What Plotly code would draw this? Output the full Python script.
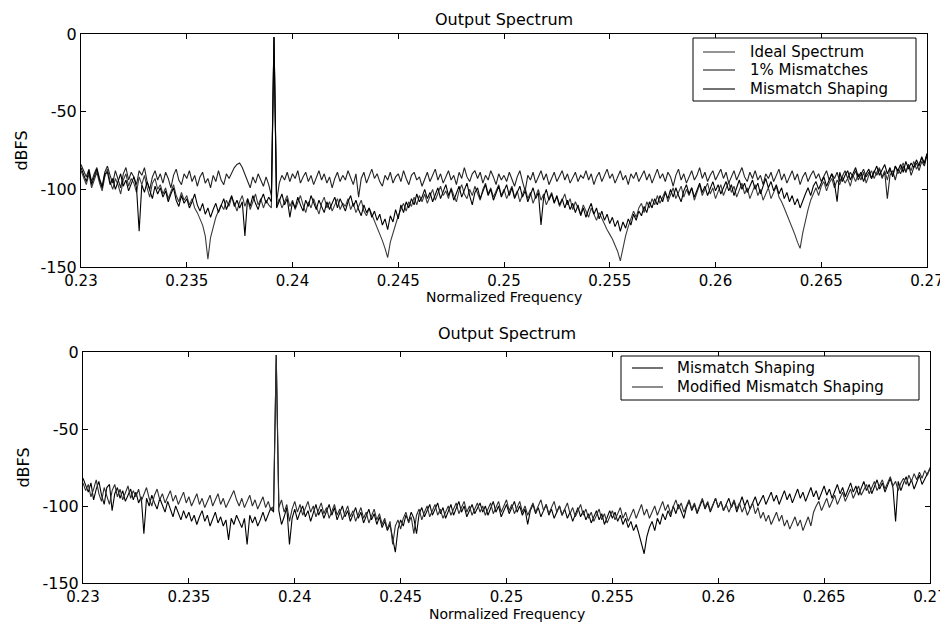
import plotly.graph_objects as go

# ---------------- data ----------------
bin_step = 0.000125          # FFT bin spacing (normalized frequency)
f_start = 0.23

ideal = [-88,-93,-97,-90,-99,-94,-89,-96,-101,-92,
         -87,-95,-100,-93,-97,-103,-94,-90,-98,-93,
         -96,-102,-92,-97,-91,-99,-105,-96,-93,-100,
         -97,-103,-99,-106,-101,-97,-104,-108,-102,-107,
         -104,-110,-106,-112,-115,-119,-123,-130,-145,-131,
         -124,-118,-114,-110,-113,-107,-111,-105,-109,-114,
         -108,-104,-111,-106,-113,-108,-103,-110,-106,-112,
         -107,-110,-112,-2,-110,-106,-112,-108,-104,-111,
         -107,-113,-109,-104,-110,-115,-108,-112,-106,-111,
         -116,-109,-105,-112,-108,-114,-110,-106,-113,-109,
         -111,-106,-113,-109,-115,-111,-107,-114,-117,-112,
         -116,-121,-125,-129,-133,-138,-144,-134,-128,-122,
         -117,-113,-109,-114,-108,-111,-105,-110,-104,-108,
         -103,-109,-105,-100,-107,-102,-98,-104,-101,-106,
         -99,-104,-108,-101,-97,-103,-106,-100,-104,-98,
         -102,-107,-100,-96,-103,-99,-105,-101,-97,-104,
         -100,-106,-102,-98,-105,-101,-108,-103,-99,-106,
         -102,-109,-104,-100,-107,-103,-110,-106,-102,-108,
         -105,-111,-107,-103,-110,-106,-113,-108,-112,-116,
         -110,-114,-118,-112,-116,-120,-115,-119,-123,-126,
         -129,-132,-136,-140,-146,-137,-130,-124,-119,-114,
         -118,-112,-109,-115,-108,-112,-106,-110,-104,-109,
         -105,-101,-108,-103,-99,-106,-102,-98,-105,-100,
         -104,-99,-107,-102,-97,-104,-100,-96,-103,-99,
         -106,-101,-97,-104,-99,-95,-102,-98,-105,-100,
         -96,-103,-99,-106,-101,-97,-104,-100,-107,-103,
         -99,-106,-102,-98,-105,-108,-112,-116,-120,-125,
         -129,-134,-138,-128,-120,-113,-107,-103,-99,-104,
         -98,-95,-101,-96,-93,-99,-94,-97,-92,-96,
         -93,-98,-91,-95,-90,-94,-89,-96,-91,-88,
         -93,-89,-86,-92,-88,-94,-87,-91,-85,-90,
         -86,-83,-89,-84,-88,-82,-87,-83,-80,-84,
         -77]

mismatch_1pct = [-84,-88,-92,-87,-95,-90,-86,-93,-98,-89,
                 -85,-91,-96,-88,-93,-99,-90,-86,-94,-89,
                 -92,-97,-88,-91,-86,-95,-100,-92,-88,-94,
                 -90,-96,-89,-93,-99,-91,-87,-94,-97,-90,
                 -93,-88,-95,-91,-98,-92,-89,-96,-93,-99,
                 -91,-95,-88,-94,-97,-90,-93,-89,-86,-84,
                 -83,-86,-90,-95,-99,-92,-96,-90,-94,-98,
                 -92,-97,-104,-2,-108,-96,-91,-94,-89,-95,
                 -90,-93,-88,-96,-92,-89,-95,-91,-97,-93,
                 -88,-94,-90,-96,-92,-99,-93,-89,-95,-91,
                 -94,-88,-92,-97,-90,-105,-93,-89,-96,-91,
                 -87,-93,-90,-95,-98,-91,-94,-89,-96,-92,
                 -90,-95,-88,-93,-97,-91,-89,-94,-92,-98,
                 -93,-89,-95,-91,-87,-94,-90,-96,-92,-88,
                 -94,-91,-97,-89,-93,-86,-92,-95,-90,-88,
                 -93,-89,-96,-91,-94,-88,-92,-97,-90,-94,
                 -91,-95,-89,-93,-98,-92,-88,-95,-101,-91,
                 -94,-89,-96,-92,-88,-94,-90,-97,-93,-89,
                 -95,-91,-88,-94,-90,-96,-92,-89,-95,-91,
                 -93,-88,-94,-90,-97,-92,-89,-95,-91,-87,
                 -93,-90,-96,-92,-88,-94,-91,-97,-90,-93,
                 -89,-95,-91,-88,-94,-90,-96,-92,-87,-93,
                 -90,-95,-89,-92,-98,-91,-87,-94,-90,-96,
                 -92,-88,-94,-91,-86,-93,-89,-95,-91,-88,
                 -94,-90,-87,-93,-89,-96,-92,-88,-94,-90,
                 -86,-92,-95,-89,-93,-88,-94,-91,-97,-90,
                 -93,-89,-95,-91,-87,-94,-90,-96,-92,-88,
                 -94,-90,-97,-92,-89,-95,-91,-88,-93,-90,
                 -95,-91,-88,-94,-90,-93,-89,-95,-91,-88,
                 -93,-89,-92,-88,-94,-90,-87,-92,-89,-93,
                 -88,-91,-87,-93,-89,-106,-91,-88,-94,-87,
                 -90,-85,-89,-84,-91,-86,-83,-88,-82,-85,
                 -78]

shaping_top = [-86,-91,-95,-88,-97,-92,-87,-94,-99,-90,
               -89,-97,-93,-100,-95,-90,-98,-94,-101,-96,
               -92,-99,-127,-97,-102,-95,-100,-106,-98,-103,
               -99,-105,-101,-108,-103,-99,-107,-111,-104,-109,
               -106,-112,-108,-103,-110,-114,-109,-116,-112,-118,
               -113,-109,-115,-110,-106,-113,-108,-104,-111,-107,
               -112,-108,-130,-106,-111,-104,-109,-113,-107,-103,
               -109,-105,-108,-2,-112,-107,-103,-110,-106,-118,
               -108,-112,-105,-110,-114,-107,-111,-104,-109,-113,
               -107,-111,-115,-108,-113,-109,-105,-112,-106,-110,
               -114,-108,-104,-111,-107,-113,-117,-110,-115,-112,
               -118,-114,-120,-116,-123,-119,-126,-117,-121,-113,
               -119,-110,-115,-108,-112,-106,-110,-103,-108,-105,
               -100,-106,-102,-108,-104,-99,-106,-101,-97,-104,
               -100,-107,-103,-98,-105,-101,-96,-104,-110,-102,
               -99,-106,-101,-97,-104,-100,-107,-102,-98,-105,
               -101,-97,-104,-99,-106,-102,-98,-105,-101,-108,
               -103,-99,-106,-102,-123,-105,-100,-107,-103,-109,
               -104,-110,-106,-112,-107,-113,-109,-115,-110,-117,
               -112,-118,-113,-109,-116,-112,-119,-114,-120,-116,
               -122,-118,-124,-120,-127,-121,-125,-119,-123,-116,
               -120,-114,-117,-111,-115,-108,-112,-106,-110,-104,
               -108,-102,-106,-100,-105,-99,-104,-108,-101,-97,
               -103,-99,-105,-101,-96,-102,-98,-104,-100,-95,
               -101,-97,-103,-99,-95,-101,-97,-104,-99,-94,
               -100,-96,-102,-98,-94,-100,-96,-103,-98,-93,
               -99,-95,-101,-97,-103,-99,-106,-102,-108,-104,
               -110,-106,-112,-107,-103,-99,-104,-98,-95,-100,
               -96,-92,-98,-94,-90,-96,-108,-89,-95,-91,
               -88,-94,-90,-86,-92,-89,-95,-90,-87,-93,
               -89,-85,-91,-87,-84,-90,-86,-92,-85,-88,
               -84,-89,-82,-87,-83,-86,-81,-85,-79,-83,
               -77]

shaping_bottom = [-82,-87,-91,-85,-96,-89,-84,-93,-99,-88,
                  -86,-103,-92,-88,-95,-90,-97,-93,-89,-96,
                  -91,-98,-94,-118,-95,-100,-93,-98,-102,-95,
                  -99,-104,-97,-102,-107,-100,-105,-109,-103,-108,
                  -104,-110,-106,-112,-107,-103,-110,-106,-113,-108,
                  -104,-111,-107,-113,-109,-122,-108,-112,-106,-110,
                  -114,-108,-125,-106,-111,-107,-113,-109,-104,-110,
                  -106,-101,-104,-2,-103,-112,-107,-101,-125,-108,
                  -102,-109,-104,-100,-107,-103,-110,-105,-99,-106,
                  -102,-108,-103,-99,-106,-101,-109,-104,-100,-107,
                  -103,-110,-105,-101,-108,-104,-111,-106,-102,-109,
                  -105,-112,-107,-114,-110,-116,-112,-121,-130,-115,
                  -109,-113,-106,-110,-104,-108,-118,-105,-101,-107,
                  -103,-99,-106,-102,-98,-105,-101,-108,-103,-99,
                  -106,-102,-97,-104,-100,-107,-103,-99,-105,-101,
                  -98,-104,-100,-106,-102,-97,-104,-100,-107,-103,
                  -99,-105,-101,-97,-104,-100,-106,-102,-112,-103,
                  -99,-105,-101,-107,-103,-99,-106,-102,-108,-104,
                  -100,-106,-102,-108,-104,-110,-105,-101,-107,-103,
                  -109,-105,-111,-107,-103,-109,-105,-112,-107,-103,
                  -108,-104,-110,-106,-112,-108,-114,-110,-116,-112,
                  -118,-124,-131,-120,-114,-110,-116,-108,-112,-105,
                  -109,-103,-107,-100,-105,-99,-103,-108,-101,-97,
                  -103,-99,-105,-101,-96,-102,-98,-104,-100,-95,
                  -101,-97,-103,-99,-95,-101,-97,-104,-99,-94,
                  -100,-96,-102,-98,-94,-100,-96,-93,-99,-95,
                  -91,-97,-93,-99,-94,-90,-96,-92,-98,-93,
                  -89,-95,-91,-97,-92,-88,-94,-90,-96,-91,
                  -87,-93,-89,-95,-90,-86,-92,-88,-94,-89,
                  -85,-91,-87,-93,-88,-84,-90,-86,-92,-87,
                  -83,-89,-85,-91,-86,-82,-88,-110,-84,-90,
                  -85,-81,-87,-83,-89,-84,-80,-86,-82,-79,
                  -76]

modified_shaping = [-85,-90,-86,-94,-89,-83,-92,-97,-88,-93,
                    -99,-90,-86,-94,-89,-96,-91,-87,-95,-90,
                    -94,-89,-97,-92,-88,-95,-100,-93,-89,-96,
                    -92,-98,-94,-90,-97,-93,-99,-95,-91,-98,
                    -94,-100,-96,-92,-99,-95,-101,-97,-93,-100,
                    -96,-92,-99,-95,-101,-97,-93,-90,-96,-100,
                    -95,-101,-97,-93,-100,-96,-102,-98,-94,-101,
                    -97,-103,-100,-2,-101,-96,-104,-99,-110,-102,
                    -97,-104,-99,-106,-101,-97,-104,-100,-107,-102,
                    -98,-105,-101,-108,-103,-99,-106,-102,-109,-104,
                    -100,-107,-103,-110,-105,-101,-108,-104,-111,-106,
                    -102,-109,-105,-112,-108,-115,-110,-125,-113,-109,
                    -115,-108,-104,-111,-107,-118,-106,-102,-109,-104,
                    -100,-107,-103,-99,-106,-102,-108,-104,-100,-106,
                    -102,-98,-105,-101,-97,-104,-100,-106,-102,-98,
                    -104,-100,-106,-102,-98,-105,-101,-97,-104,-100,
                    -96,-103,-99,-105,-101,-97,-104,-100,-106,-102,
                    -98,-104,-100,-96,-103,-99,-105,-101,-97,-104,
                    -100,-106,-102,-98,-105,-101,-107,-103,-99,-106,
                    -102,-108,-104,-110,-106,-102,-109,-105,-111,-107,
                    -103,-109,-105,-101,-108,-104,-110,-106,-102,-108,
                    -104,-99,-106,-102,-108,-104,-100,-106,-102,-97,
                    -103,-99,-105,-101,-96,-102,-98,-104,-100,-96,
                    -102,-98,-104,-100,-95,-101,-97,-103,-99,-95,
                    -101,-97,-103,-99,-104,-100,-96,-102,-98,-104,
                    -100,-106,-102,-98,-105,-101,-108,-104,-110,-106,
                    -112,-108,-104,-110,-106,-113,-109,-115,-111,-107,
                    -113,-109,-116,-111,-107,-113,-104,-100,-97,-103,
                    -99,-95,-101,-97,-93,-99,-95,-91,-97,-93,
                    -89,-95,-91,-87,-93,-89,-86,-92,-88,-84,
                    -90,-86,-83,-89,-85,-81,-87,-84,-90,-85,
                    -82,-86,-80,-84,-79,-83,-78,-82,-77,-80,
                    -75]

x_ticks = [0.23, 0.235, 0.24, 0.245, 0.25, 0.255, 0.26, 0.265, 0.27]
x_tick_text = ["0.23", "0.235", "0.24", "0.245", "0.25", "0.255", "0.26", "0.265", "0.27"]
y_ticks = [0, -50, -100, -150]
y_tick_text = ["0", "-50", "-100", "-150"]

top_names = ["Ideal Spectrum", "1% Mismatches", "Mismatch Shaping"]
bottom_names = ["Mismatch Shaping", "Modified Mismatch Shaping"]
plot_title = "Output Spectrum"
x_title = "Normalized Frequency"
y_title = "dBFS"


def bins(values):
    return [round(f_start + bin_step * i, 6) for i in range(len(values))]


# ---------------- figure ----------------
FONT = "DejaVu Sans, Verdana, sans-serif"
FS = 16
W, H = 940, 616
L, R, T, B = 73, 18, 26, 41
pw, ph = W - L - R, H - T - B


def py(pix):  # figure pixel y -> paper y
    return (H - B - pix) / ph


def px(pix):  # figure pixel x -> paper x
    return (pix - L) / pw


fig = go.Figure()

top_colors = ["#3c3c3c", "#222222", "#000000"]
for name, vals, col in zip(top_names, [ideal, mismatch_1pct, shaping_top], top_colors):
    fig.add_trace(go.Scatter(x=bins(vals), y=vals, mode="lines", name=name,
                             line=dict(color=col, width=1.1),
                             xaxis="x", yaxis="y", showlegend=False))

bottom_colors = ["#000000", "#2e2e2e"]
for name, vals, col in zip(bottom_names, [shaping_bottom, modified_shaping], bottom_colors):
    fig.add_trace(go.Scatter(x=bins(vals), y=vals, mode="lines", name=name,
                             line=dict(color=col, width=1.1),
                             xaxis="x2", yaxis="y2", showlegend=False))

axis_common = dict(showgrid=False, zeroline=False, showline=True,
                   linecolor="black", linewidth=1, mirror="ticks",
                   ticks="inside", ticklen=5, tickcolor="black",
                   tickfont=dict(family=FONT, size=FS, color="black"))
xtick_font = dict(family=FONT, size=15, color="black")

xdom_top = [0, (919 - L) / pw]
xdom_bot = [(75 - L) / pw, 1]

title_font = dict(family=FONT, size=FS, color="black")
small_font = dict(family=FONT, size=15, color="black")
xtitle_font = dict(family=FONT, size=14, color="black")

fig.update_layout(
    width=W, height=H,
    margin=dict(l=L, r=R, t=T, b=B, autoexpand=False),
    paper_bgcolor="white", plot_bgcolor="white",
    font=dict(family=FONT, size=FS, color="black"),
    showlegend=False,
    xaxis=dict(axis_common, domain=xdom_top, range=[0.23, 0.27],
               tickvals=x_ticks, ticktext=x_tick_text, anchor="y",
               tickfont=xtick_font),
    yaxis=dict(axis_common, domain=[py(259), 1], range=[-150, 0],
               tickvals=y_ticks, ticktext=y_tick_text, anchor="x",
               title=dict(text=y_title, standoff=8, font=title_font)),
    xaxis2=dict(axis_common, domain=xdom_bot, range=[0.23, 0.27],
                tickvals=x_ticks, ticktext=x_tick_text, anchor="y2",
                tickfont=xtick_font),
    yaxis2=dict(axis_common, domain=[0, py(344)], range=[-150, 0],
                tickvals=y_ticks, ticktext=y_tick_text, anchor="x2",
                title=dict(text=y_title, standoff=8, font=title_font)),
)

top_cx = (xdom_top[0] + xdom_top[1]) / 2
bot_cx = (xdom_bot[0] + xdom_bot[1]) / 2
annotations = [
    dict(text=plot_title, x=top_cx, y=py(0), xref="paper", yref="paper",
         xanchor="center", yanchor="top", showarrow=False, font=title_font),
    dict(text=plot_title, x=bot_cx, y=py(325), xref="paper", yref="paper",
         xanchor="center", yanchor="middle", showarrow=False, font=title_font),
    dict(text=x_title, x=top_cx, y=py(289), xref="paper", yref="paper",
         xanchor="center", yanchor="middle", showarrow=False, font=xtitle_font),
    dict(text=x_title, x=bot_cx, y=py(616), xref="paper", yref="paper",
         xanchor="center", yanchor="bottom", showarrow=False, font=xtitle_font),
]
shapes = []

# legend boxes (framed boxes with line samples, positions in figure pixels)
legend_specs = [
    dict(box=(685, 30, 908, 93), line_x=(695, 727), text_x=740,
         rows=[44, 62, 81], names=top_names, colors=top_colors),
    dict(box=(613, 348, 911, 392), line_x=(624, 655), text_x=667,
         rows=[360, 379], names=bottom_names, colors=bottom_colors),
]
for spec in legend_specs:
    x0, y0, x1, y1 = spec["box"]
    shapes.append(dict(type="rect", xref="paper", yref="paper",
                       x0=px(x0), x1=px(x1), y0=py(y1), y1=py(y0),
                       line=dict(color="black", width=1), fillcolor="white",
                       layer="above"))
    for row, name, col in zip(spec["rows"], spec["names"], spec["colors"]):
        shapes.append(dict(type="line", xref="paper", yref="paper",
                           x0=px(spec["line_x"][0]), x1=px(spec["line_x"][1]),
                           y0=py(row), y1=py(row),
                           line=dict(color=col, width=1.1), layer="above"))
        annotations.append(dict(text=name, x=px(spec["text_x"]), y=py(row),
                                xref="paper", yref="paper", xanchor="left",
                                yanchor="middle", showarrow=False,
                                font=small_font))

fig.update_layout(annotations=annotations, shapes=shapes)

fig.write_html("out.html")
